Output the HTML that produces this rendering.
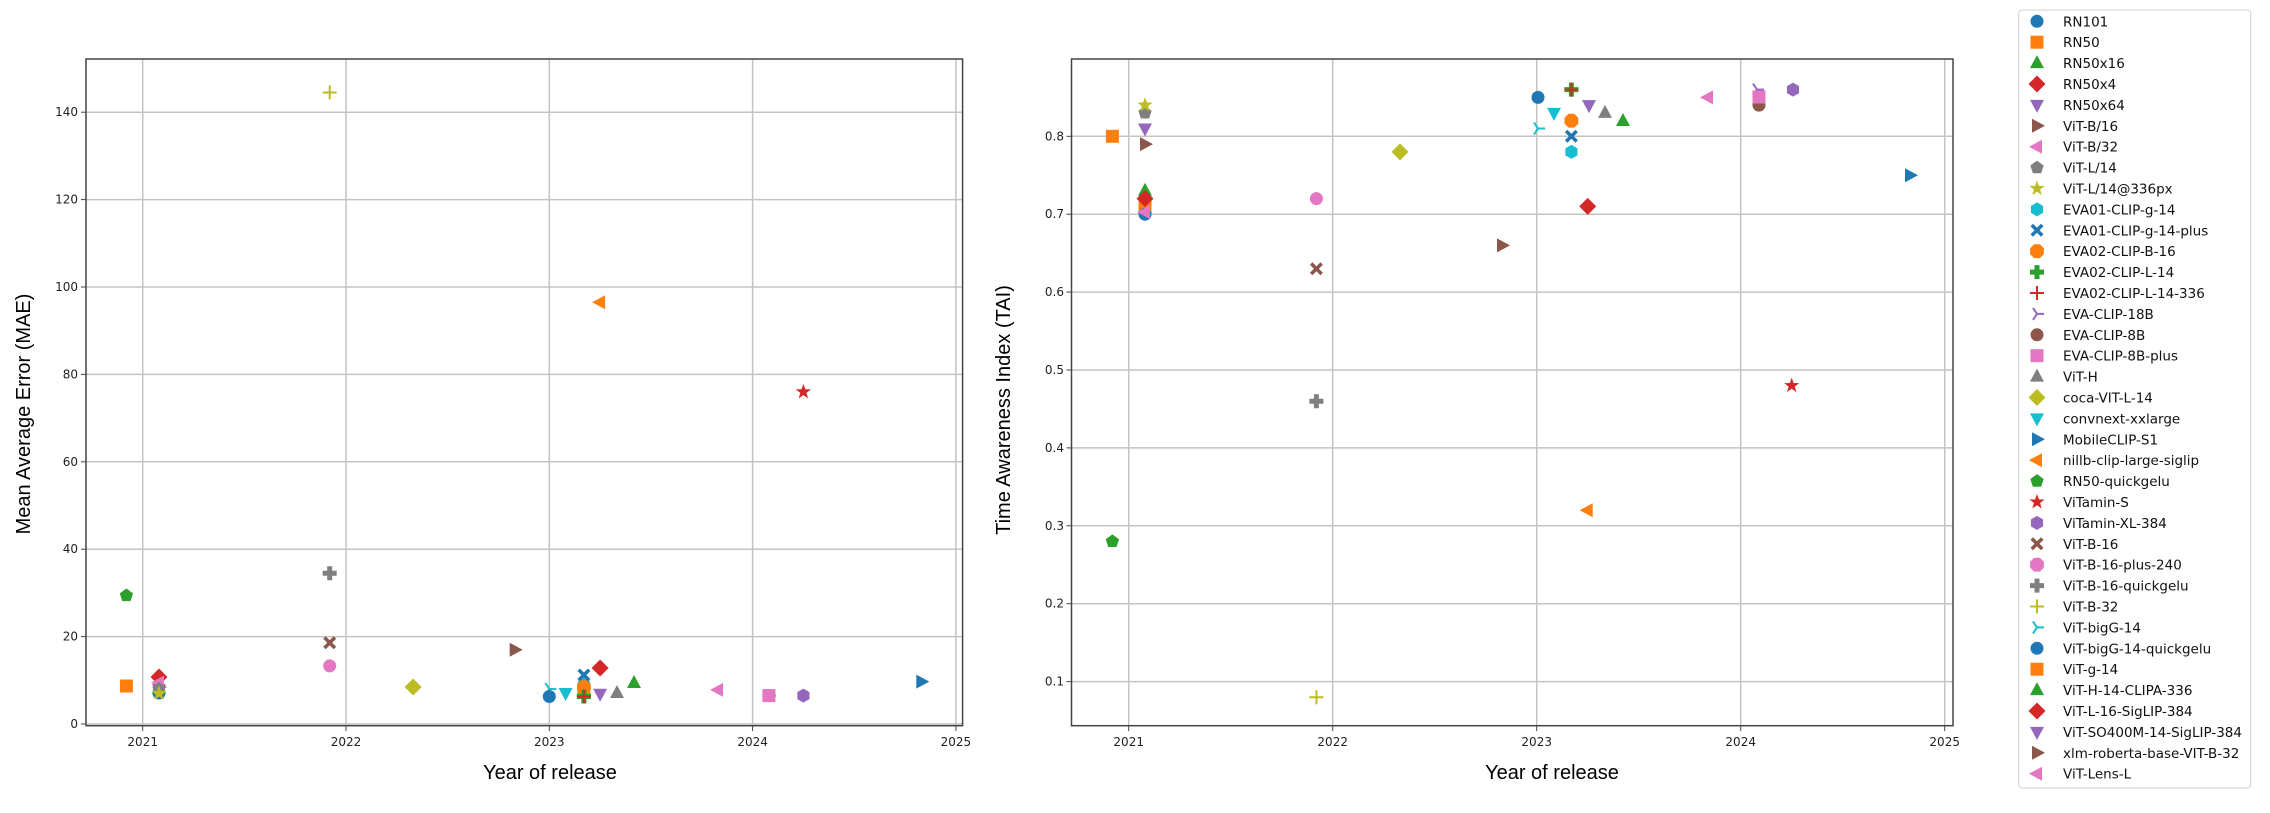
<!DOCTYPE html>
<html><head><meta charset="utf-8">
<style>
html,body{margin:0;padding:0;background:#fff;}
svg{display:block;}
.tk{font-family:"DejaVu Sans","Liberation Sans",sans-serif;font-size:12px;fill:#222;}
.lab{font-family:"Liberation Sans",Arial,sans-serif;font-size:20px;fill:#000;}
.lg{font-family:"DejaVu Sans","Liberation Sans",sans-serif;font-size:13.5px;fill:#111;}
</style></head>
<body>
<svg width="2270" height="813" viewBox="0 0 2270 813" xmlns="http://www.w3.org/2000/svg">
<defs>
<circle id="o" r="6.5"/>
<rect id="s" x="-6.5" y="-6.5" width="13" height="13"/>
<polygon id="tu" points="0,-8 7,5 -7,5"/>
<polygon id="td" points="0,8 7,-5 -7,-5"/>
<polygon id="tr" points="8,0 -5,-7 -5,7"/>
<polygon id="tl" points="-8,0 5,-7 5,7"/>
<polygon id="D" points="0,-8.5 8.5,0 0,8.5 -8.5,0"/>
<polygon id="p" points="0,-7 6.66,-2.16 4.11,5.66 -4.11,5.66 -6.66,-2.16"/>
<polygon id="st" points="0,-8 1.9,-2.6 7.6,-2.5 3.1,1 4.7,6.5 0,3.2 -4.7,6.5 -3.1,1 -7.6,-2.5 -1.9,-2.6"/>
<polygon id="h" points="0,-7 6.06,-3.5 6.06,3.5 0,7 -6.06,3.5 -6.06,-3.5"/>
<polygon id="X" points="-4,-6.5 0,-2.5 4,-6.5 6.5,-4 2.5,0 6.5,4 4,6.5 0,2.5 -4,6.5 -6.5,4 -2.5,0 -6.5,-4"/>
<polygon id="oc" points="-2.9,-6.9 2.9,-6.9 6.9,-2.9 6.9,2.9 2.9,6.9 -2.9,6.9 -6.9,2.9 -6.9,-2.9"/>
<polygon id="P" points="-2.5,-7 2.5,-7 2.5,-2.5 7,-2.5 7,2.5 2.5,2.5 2.5,7 -2.5,7 -2.5,2.5 -7,2.5 -7,-2.5 -2.5,-2.5"/>
<path id="pl" d="M-7,0H7M0,-7V7" fill="none" stroke-width="2"/>
<path id="tb" d="M0,0H7M0,0L-4,-6M0,0L-4,6" fill="none" stroke-width="2"/>
</defs>

<!-- LEFT AXES -->
<g stroke="#b0b0b0" stroke-width="1.5" opacity="0.75">
<line x1="142.7" y1="59" x2="142.7" y2="726"/><line x1="346" y1="59" x2="346" y2="726"/><line x1="549.3" y1="59" x2="549.3" y2="726"/><line x1="752.6" y1="59" x2="752.6" y2="726"/><line x1="955.9" y1="59" x2="955.9" y2="726"/>
<line x1="86" y1="724" x2="962" y2="724"/><line x1="86" y1="636.6" x2="962" y2="636.6"/><line x1="86" y1="549.2" x2="962" y2="549.2"/><line x1="86" y1="461.8" x2="962" y2="461.8"/><line x1="86" y1="374.4" x2="962" y2="374.4"/><line x1="86" y1="287" x2="962" y2="287"/><line x1="86" y1="199.6" x2="962" y2="199.6"/><line x1="86" y1="112.2" x2="962" y2="112.2"/>
</g>
<rect x="86" y="59" width="876.6" height="666.7" fill="none" stroke="#444" stroke-width="1.5"/>
<g stroke="#444" stroke-width="1">
<line x1="81" y1="724" x2="86" y2="724"/><line x1="81" y1="636.6" x2="86" y2="636.6"/><line x1="81" y1="549.2" x2="86" y2="549.2"/><line x1="81" y1="461.8" x2="86" y2="461.8"/><line x1="81" y1="374.4" x2="86" y2="374.4"/><line x1="81" y1="287" x2="86" y2="287"/><line x1="81" y1="199.6" x2="86" y2="199.6"/><line x1="81" y1="112.2" x2="86" y2="112.2"/>
<line x1="142.7" y1="726" x2="142.7" y2="731"/><line x1="346" y1="726" x2="346" y2="731"/><line x1="549.3" y1="726" x2="549.3" y2="731"/><line x1="752.6" y1="726" x2="752.6" y2="731"/><line x1="955.9" y1="726" x2="955.9" y2="731"/>
</g>
<g class="tk" text-anchor="end">
<text x="78" y="728">0</text><text x="78" y="640.6">20</text><text x="78" y="553.2">40</text><text x="78" y="465.8">60</text><text x="78" y="378.4">80</text><text x="78" y="291">100</text><text x="78" y="203.6">120</text><text x="78" y="116.2">140</text>
</g>
<g class="tk" text-anchor="middle">
<text x="142.7" y="746">2021</text><text x="346" y="746">2022</text><text x="549.3" y="746">2023</text><text x="752.6" y="746">2024</text><text x="955.9" y="746">2025</text>
</g>
<text class="lab" x="550" y="779" text-anchor="middle">Year of release</text>
<text class="lab" transform="translate(30,414) rotate(-90)" text-anchor="middle">Mean Average Error (MAE)</text>

<!-- left points -->
<g>
<use href="#o" x="159" y="693" fill="#1f77b4"/>
<use href="#s" x="126.4" y="686" fill="#ff7f0e"/>
<use href="#tu" x="159" y="689" fill="#2ca02c"/>
<use href="#D" x="159" y="677" fill="#d62728"/>
<use href="#td" x="159" y="689" fill="#9467bd"/>
<use href="#tr" x="159" y="687" fill="#8c564b"/>
<use href="#tl" x="159" y="682.5" fill="#e377c2"/>
<use href="#p" x="159" y="689" fill="#7f7f7f"/>
<use href="#st" x="159" y="693.4" fill="#bcbd22"/>
<use href="#h" x="583.9" y="684.7" fill="#17becf"/>
<use href="#X" x="583.9" y="675" fill="#1f77b4"/>
<use href="#oc" x="583.9" y="687" fill="#ff7f0e"/>
<use href="#P" x="583.9" y="696" fill="#2ca02c"/>
<use href="#pl" x="583.9" y="696" stroke="#d62728"/>
<use href="#tb" x="768.9" y="695.6" stroke="#9467bd"/>
<use href="#o" x="768.9" y="695.6" fill="#8c564b"/>
<use href="#s" x="768.9" y="695.6" fill="#e377c2"/>
<use href="#tu" x="617" y="693" fill="#7f7f7f"/>
<use href="#D" x="413.1" y="687" fill="#bcbd22"/>
<use href="#td" x="565.6" y="693" fill="#17becf"/>
<use href="#tr" x="921.3" y="681.6" fill="#1f77b4"/>
<use href="#tl" x="600.1" y="302.3" fill="#ff7f0e"/>
<use href="#p" x="126.4" y="595.5" fill="#2ca02c"/>
<use href="#st" x="803.4" y="391.9" fill="#d62728"/>
<use href="#h" x="803.4" y="695.6" fill="#9467bd"/>
<use href="#X" x="329.7" y="642.7" fill="#8c564b"/>
<use href="#o" x="329.7" y="665.9" fill="#e377c2"/>
<use href="#P" x="329.7" y="573.2" fill="#7f7f7f"/>
<use href="#pl" x="329.7" y="92.5" stroke="#bcbd22"/>
<use href="#tb" x="549.3" y="689" stroke="#17becf"/>
<use href="#o" x="549.3" y="696.5" fill="#1f77b4"/>
<use href="#s" x="583.9" y="691" fill="#ff7f0e"/>
<use href="#tu" x="634" y="683" fill="#2ca02c"/>
<use href="#D" x="600.1" y="668" fill="#d62728"/>
<use href="#td" x="600.1" y="693.8" fill="#9467bd"/>
<use href="#tr" x="514.7" y="649.7" fill="#8c564b"/>
<use href="#tl" x="718.1" y="689.9" fill="#e377c2"/>
<use href="#P" x="583.9" y="696.5" fill="#2ca02c"/>
<use href="#pl" x="583.9" y="696.5" stroke="#d62728"/>
</g>

<!-- RIGHT AXES -->
<g stroke="#b0b0b0" stroke-width="1.5" opacity="0.75">
<line x1="1128.7" y1="59" x2="1128.7" y2="726"/><line x1="1332.7" y1="59" x2="1332.7" y2="726"/><line x1="1536.7" y1="59" x2="1536.7" y2="726"/><line x1="1740.7" y1="59" x2="1740.7" y2="726"/><line x1="1944.7" y1="59" x2="1944.7" y2="726"/>
<line x1="1072" y1="681.6" x2="1953" y2="681.6"/><line x1="1072" y1="603.7" x2="1953" y2="603.7"/><line x1="1072" y1="525.8" x2="1953" y2="525.8"/><line x1="1072" y1="447.9" x2="1953" y2="447.9"/><line x1="1072" y1="370" x2="1953" y2="370"/><line x1="1072" y1="292.1" x2="1953" y2="292.1"/><line x1="1072" y1="214.2" x2="1953" y2="214.2"/><line x1="1072" y1="136.3" x2="1953" y2="136.3"/>
</g>
<rect x="1071.5" y="59" width="881.5" height="666.7" fill="none" stroke="#444" stroke-width="1.5"/>
<g stroke="#444" stroke-width="1">
<line x1="1066.5" y1="681.6" x2="1071.5" y2="681.6"/><line x1="1066.5" y1="603.7" x2="1071.5" y2="603.7"/><line x1="1066.5" y1="525.8" x2="1071.5" y2="525.8"/><line x1="1066.5" y1="447.9" x2="1071.5" y2="447.9"/><line x1="1066.5" y1="370" x2="1071.5" y2="370"/><line x1="1066.5" y1="292.1" x2="1071.5" y2="292.1"/><line x1="1066.5" y1="214.2" x2="1071.5" y2="214.2"/><line x1="1066.5" y1="136.3" x2="1071.5" y2="136.3"/>
<line x1="1128.7" y1="726" x2="1128.7" y2="731"/><line x1="1332.7" y1="726" x2="1332.7" y2="731"/><line x1="1536.7" y1="726" x2="1536.7" y2="731"/><line x1="1740.7" y1="726" x2="1740.7" y2="731"/><line x1="1944.7" y1="726" x2="1944.7" y2="731"/>
</g>
<g class="tk" text-anchor="end">
<text x="1064" y="685.6">0.1</text><text x="1064" y="607.7">0.2</text><text x="1064" y="529.8">0.3</text><text x="1064" y="451.9">0.4</text><text x="1064" y="374">0.5</text><text x="1064" y="296.1">0.6</text><text x="1064" y="218.2">0.7</text><text x="1064" y="140.3">0.8</text>
</g>
<g class="tk" text-anchor="middle">
<text x="1128.7" y="746">2021</text><text x="1332.7" y="746">2022</text><text x="1536.7" y="746">2023</text><text x="1740.7" y="746">2024</text><text x="1944.7" y="746">2025</text>
</g>
<text class="lab" x="1552" y="779" text-anchor="middle">Year of release</text>
<text class="lab" transform="translate(1010,410) rotate(-90)" text-anchor="middle">Time Awareness Index (TAI)</text>

<!-- right points -->
<g>
<use href="#s" x="1145" y="206.4" fill="#ff7f0e"/>
<use href="#o" x="1145" y="214.2" fill="#1f77b4"/>
<use href="#s" x="1112.4" y="136.3" fill="#ff7f0e"/>
<use href="#tu" x="1145" y="190.8" fill="#2ca02c"/>
<use href="#D" x="1145" y="198.6" fill="#d62728"/>
<use href="#td" x="1145" y="128.5" fill="#9467bd"/>
<use href="#tr" x="1145" y="144.1" fill="#8c564b"/>
<use href="#tl" x="1145" y="212" fill="#e377c2"/>
<use href="#p" x="1145" y="112.9" fill="#7f7f7f"/>
<use href="#st" x="1145" y="105.1" fill="#bcbd22"/>
<use href="#h" x="1571.4" y="151.9" fill="#17becf"/>
<use href="#X" x="1571.4" y="136.3" fill="#1f77b4"/>
<use href="#oc" x="1571.4" y="120.7" fill="#ff7f0e"/>
<use href="#P" x="1571.4" y="89.6" fill="#2ca02c"/>
<use href="#pl" x="1571.4" y="89.6" stroke="#d62728"/>
<use href="#tb" x="1757" y="89.6" stroke="#9467bd"/>
<use href="#o" x="1759" y="105.1" fill="#8c564b"/>
<use href="#s" x="1759" y="97" fill="#e377c2"/>
<use href="#tu" x="1605" y="112.9" fill="#7f7f7f"/>
<use href="#D" x="1400" y="151.9" fill="#bcbd22"/>
<use href="#td" x="1554" y="112.9" fill="#17becf"/>
<use href="#tr" x="1910" y="175.3" fill="#1f77b4"/>
<use href="#tl" x="1587.7" y="510.2" fill="#ff7f0e"/>
<use href="#p" x="1112.4" y="541.4" fill="#2ca02c"/>
<use href="#st" x="1791.7" y="385.6" fill="#d62728"/>
<use href="#h" x="1793" y="89.6" fill="#9467bd"/>
<use href="#X" x="1316.4" y="268.7" fill="#8c564b"/>
<use href="#o" x="1316.4" y="198.6" fill="#e377c2"/>
<use href="#P" x="1316.4" y="401.2" fill="#7f7f7f"/>
<use href="#pl" x="1316.4" y="697.2" stroke="#bcbd22"/>
<use href="#tb" x="1538" y="128.5" stroke="#17becf"/>
<use href="#o" x="1538" y="97.4" fill="#1f77b4"/>
<use href="#tu" x="1623" y="121" fill="#2ca02c"/>
<use href="#D" x="1587.7" y="206.4" fill="#d62728"/>
<use href="#td" x="1589" y="105.1" fill="#9467bd"/>
<use href="#tr" x="1502" y="245.4" fill="#8c564b"/>
<use href="#tl" x="1708" y="97.4" fill="#e377c2"/>
</g>

<!-- LEGEND -->
<rect x="2018.7" y="10" width="232" height="778" rx="3" fill="#fff" stroke="#d0d0d0" stroke-width="1"/>
<g transform="translate(2037,0)">
<use href="#o" y="21.3" fill="#1f77b4" transform="scale(1)"/>
<use href="#s" y="42.2" fill="#ff7f0e"/>
<use href="#tu" y="63.1" fill="#2ca02c"/>
<use href="#D" y="84" fill="#d62728"/>
<use href="#td" y="104.9" fill="#9467bd"/>
<use href="#tr" y="125.8" fill="#8c564b"/>
<use href="#tl" y="146.7" fill="#e377c2"/>
<use href="#p" y="167.6" fill="#7f7f7f"/>
<use href="#st" y="188.5" fill="#bcbd22"/>
<use href="#h" y="209.4" fill="#17becf"/>
<use href="#X" y="230.3" fill="#1f77b4"/>
<use href="#oc" y="251.2" fill="#ff7f0e"/>
<use href="#P" y="272.1" fill="#2ca02c"/>
<use href="#pl" y="293" stroke="#d62728"/>
<use href="#tb" y="313.9" stroke="#9467bd"/>
<use href="#o" y="334.8" fill="#8c564b"/>
<use href="#s" y="355.7" fill="#e377c2"/>
<use href="#tu" y="376.6" fill="#7f7f7f"/>
<use href="#D" y="397.5" fill="#bcbd22"/>
<use href="#td" y="418.4" fill="#17becf"/>
<use href="#tr" y="439.3" fill="#1f77b4"/>
<use href="#tl" y="460.2" fill="#ff7f0e"/>
<use href="#p" y="481.1" fill="#2ca02c"/>
<use href="#st" y="502" fill="#d62728"/>
<use href="#h" y="522.9" fill="#9467bd"/>
<use href="#X" y="543.8" fill="#8c564b"/>
<use href="#oc" y="564.7" fill="#e377c2"/>
<use href="#P" y="585.6" fill="#7f7f7f"/>
<use href="#pl" y="606.5" stroke="#bcbd22"/>
<use href="#tb" y="627.4" stroke="#17becf"/>
<use href="#o" y="648.3" fill="#1f77b4"/>
<use href="#s" y="669.2" fill="#ff7f0e"/>
<use href="#tu" y="690.1" fill="#2ca02c"/>
<use href="#D" y="711" fill="#d62728"/>
<use href="#td" y="731.9" fill="#9467bd"/>
<use href="#tr" y="752.8" fill="#8c564b"/>
<use href="#tl" y="773.7" fill="#e377c2"/>
</g>
<g class="lg">
<text x="2063" y="26.3">RN101</text>
<text x="2063" y="47.2">RN50</text>
<text x="2063" y="68.1">RN50x16</text>
<text x="2063" y="89">RN50x4</text>
<text x="2063" y="109.9">RN50x64</text>
<text x="2063" y="130.8">ViT-B/16</text>
<text x="2063" y="151.7">ViT-B/32</text>
<text x="2063" y="172.6">ViT-L/14</text>
<text x="2063" y="193.5">ViT-L/14@336px</text>
<text x="2063" y="214.4">EVA01-CLIP-g-14</text>
<text x="2063" y="235.3">EVA01-CLIP-g-14-plus</text>
<text x="2063" y="256.2">EVA02-CLIP-B-16</text>
<text x="2063" y="277.1">EVA02-CLIP-L-14</text>
<text x="2063" y="298">EVA02-CLIP-L-14-336</text>
<text x="2063" y="318.9">EVA-CLIP-18B</text>
<text x="2063" y="339.8">EVA-CLIP-8B</text>
<text x="2063" y="360.7">EVA-CLIP-8B-plus</text>
<text x="2063" y="381.6">ViT-H</text>
<text x="2063" y="402.5">coca-VIT-L-14</text>
<text x="2063" y="423.4">convnext-xxlarge</text>
<text x="2063" y="444.3">MobileCLIP-S1</text>
<text x="2063" y="465.2">nillb-clip-large-siglip</text>
<text x="2063" y="486.1">RN50-quickgelu</text>
<text x="2063" y="507">ViTamin-S</text>
<text x="2063" y="527.9">ViTamin-XL-384</text>
<text x="2063" y="548.8">ViT-B-16</text>
<text x="2063" y="569.7">ViT-B-16-plus-240</text>
<text x="2063" y="590.6">ViT-B-16-quickgelu</text>
<text x="2063" y="611.5">ViT-B-32</text>
<text x="2063" y="632.4">ViT-bigG-14</text>
<text x="2063" y="653.3">ViT-bigG-14-quickgelu</text>
<text x="2063" y="674.2">ViT-g-14</text>
<text x="2063" y="695.1">ViT-H-14-CLIPA-336</text>
<text x="2063" y="716">ViT-L-16-SigLIP-384</text>
<text x="2063" y="736.9">ViT-SO400M-14-SigLIP-384</text>
<text x="2063" y="757.8">xlm-roberta-base-VIT-B-32</text>
<text x="2063" y="778.7">ViT-Lens-L</text>
</g>
</svg>
</body></html>
